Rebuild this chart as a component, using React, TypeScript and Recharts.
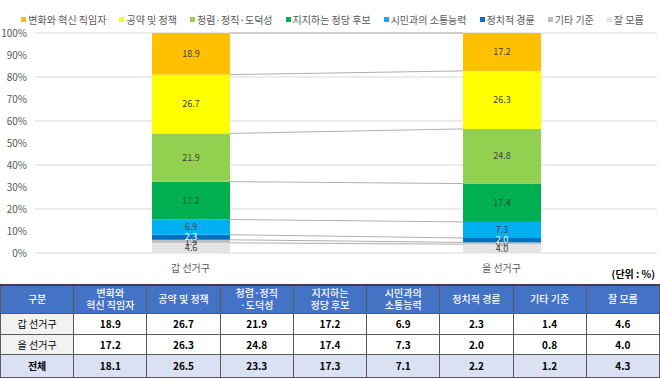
import React from "react";
import { BarChart, Bar, XAxis, YAxis, CartesianGrid, Legend, LabelList } from "recharts";

const categories = ["갑 선거구", "을 선거구"];
const seriesNames = [
  "변화와 혁신 직임자",
  "공약 및 정책",
  "청렴·정직·도덕성",
  "지지하는 정당 후보",
  "시민과의 소통능력",
  "정치적 경륜",
  "기타 기준",
  "잘 모름",
];
const seriesColors = ["#FFC000", "#FFFF00", "#92D050", "#00B050", "#00B0F0", "#0070C0", "#BFBFBF", "#E3E3E3"];
const gapValues = [18.9, 26.7, 21.9, 17.2, 6.9, 2.3, 1.4, 4.6];
const eulValues = [17.2, 26.3, 24.8, 17.4, 7.3, 2.0, 0.8, 4.0];
const totalValues = [18.1, 26.5, 23.3, 17.3, 7.1, 2.2, 1.2, 4.3];
const percentTicks = [0, 0.1, 0.2, 0.3, 0.4, 0.5, 0.6, 0.7, 0.8, 0.9, 1];

const tableHeaders = [
  ["구분"],
  ["변화와", "혁신 직임자"],
  ["공약 및 정책"],
  ["청렴·정직", "·도덕성"],
  ["지지하는", "정당 후보"],
  ["시민과의", "소통능력"],
  ["정치적 경륜"],
  ["기타 기준"],
  ["잘 모름"],
];
const tableRowLabels = ["갑 선거구", "을 선거구", "전체"];
const tableRows = [gapValues, eulValues, totalValues];

const FONT = "'Noto Sans CJK KR', 'Noto Sans', sans-serif";

const chartData = categories.map((name, i) => {
  const row: Record<string, string | number> = { name };
  const vals = i === 0 ? gapValues : eulValues;
  seriesNames.forEach((_, s) => {
    row["s" + s] = vals[s];
  });
  return row;
});

// top of each segment on the first bar, used for the connecting series lines
const firstBarTops: Record<string, [number, number]> = {};

const makeShape = (key: string, color: string) => (props: any) => {
  const { x, y, width, height, index } = props;
  let line = null;
  if (index === 0) {
    firstBarTops[key] = [x + width, y];
  } else if (index === 1 && firstBarTops[key]) {
    const [x0, y0] = firstBarTops[key];
    line = <line x1={x0} y1={y0} x2={x} y2={y} stroke="#AFAFAF" strokeWidth={1} />;
  }
  return (
    <g>
      <rect x={x} y={y} width={width} height={height} fill={color} />
      {line}
    </g>
  );
};

const renderLegend = () => (
  <div
    style={{
      height: 27,
      display: "flex",
      justifyContent: "center",
      gap: 13,
      fontFamily: FONT,
      fontSize: 10,
      lineHeight: "16px",
      color: "#595959",
      whiteSpace: "nowrap",
      paddingLeft: 8,
    }}
  >
    {seriesNames.map((n, i) => (
      <span key={n} style={{ display: "inline-flex", alignItems: "center" }}>
        <span style={{ display: "inline-block", width: 5, height: 5, background: seriesColors[i], marginRight: 2 }} />
        {n}
      </span>
    ))}
  </div>
);

const border = "1px solid #595959";

const App: React.FC = () => {
  const bottomUp = seriesNames.map((n, i) => i).reverse();
  return (
    <div style={{ position: "absolute", left: 0, top: 0, width: 660, height: 379, background: "#fff", fontFamily: FONT }}>
      <BarChart
        width={660}
        height={280}
        data={chartData}
        stackOffset="expand"
        barSize={78}
        margin={{ top: 6, right: 3, left: 0, bottom: 0 }}
      >
        <CartesianGrid vertical={false} stroke="#D9D9D9" />
        <XAxis
          dataKey="name"
          height={27}
          axisLine={false}
          tickLine={false}
          tick={{ fontSize: 10, fill: "#595959", fontFamily: FONT, dy: 4 }}
        />
        <YAxis
          width={35}
          ticks={percentTicks}
          domain={[0, 1]}
          axisLine={false}
          tickLine={false}
          tickFormatter={(v: number) => `${Math.round(v * 100)}%`}
          tick={{ fontSize: 10, fill: "#595959", fontFamily: FONT }}
        />
        <Legend verticalAlign="top" content={renderLegend} />
        {bottomUp.map((s) => (
          <Bar
            key={s}
            dataKey={"s" + s}
            name={seriesNames[s]}
            stackId="a"
            fill={seriesColors[s]}
            shape={makeShape("s" + s, seriesColors[s])}
            isAnimationActive={false}
          >
            <LabelList
              dataKey={"s" + s}
              position="center"
              formatter={(v: any) => Number(v).toFixed(1)}
              style={{ fontSize: 9, fill: s === 5 ? "#FFFFFF" : "#404040", fontFamily: FONT }}
            />
          </Bar>
        ))}
      </BarChart>
      <div
        style={{
          position: "absolute",
          right: 5,
          top: 266,
          fontSize: 10,
          fontWeight: 700,
          color: "#000",
        }}
      >
        (단위 : %)
      </div>
      <table
        style={{
          position: "absolute",
          left: 0,
          top: 284,
          width: 660,
          borderCollapse: "collapse",
          tableLayout: "fixed",
          fontSize: 10,
          textAlign: "center",
        }}
      >
        <thead>
          <tr style={{ height: 28, background: "#4472C4", color: "#fff" }}>
            {tableHeaders.map((h, i) => (
              <th
                key={i}
                style={{ border, borderTop: "2px solid #404040", fontWeight: 500, lineHeight: "12px", padding: 0 }}
              >
                {h.map((line, j) => (
                  <div key={j}>{line}</div>
                ))}
              </th>
            ))}
          </tr>
        </thead>
        <tbody>
          {tableRows.map((vals, r) => {
            const isTotal = r === 2;
            return (
              <tr key={r} style={{ height: r === 2 ? 23 : r === 0 ? 21 : 20, background: isTotal ? "#D9E1F2" : "#fff" }}>
                <td
                  style={{
                    border,
                    padding: 0,
                    background: isTotal ? "#D9E1F2" : "#F2F2F2",
                    fontWeight: isTotal ? 700 : 400,
                  }}
                >
                  {tableRowLabels[r]}
                </td>
                {vals.map((v, c) => (
                  <td key={c} style={{ border, padding: 0, fontWeight: 700 }}>
                    {v.toFixed(1)}
                  </td>
                ))}
              </tr>
            );
          })}
        </tbody>
      </table>
    </div>
  );
};

export default App;
